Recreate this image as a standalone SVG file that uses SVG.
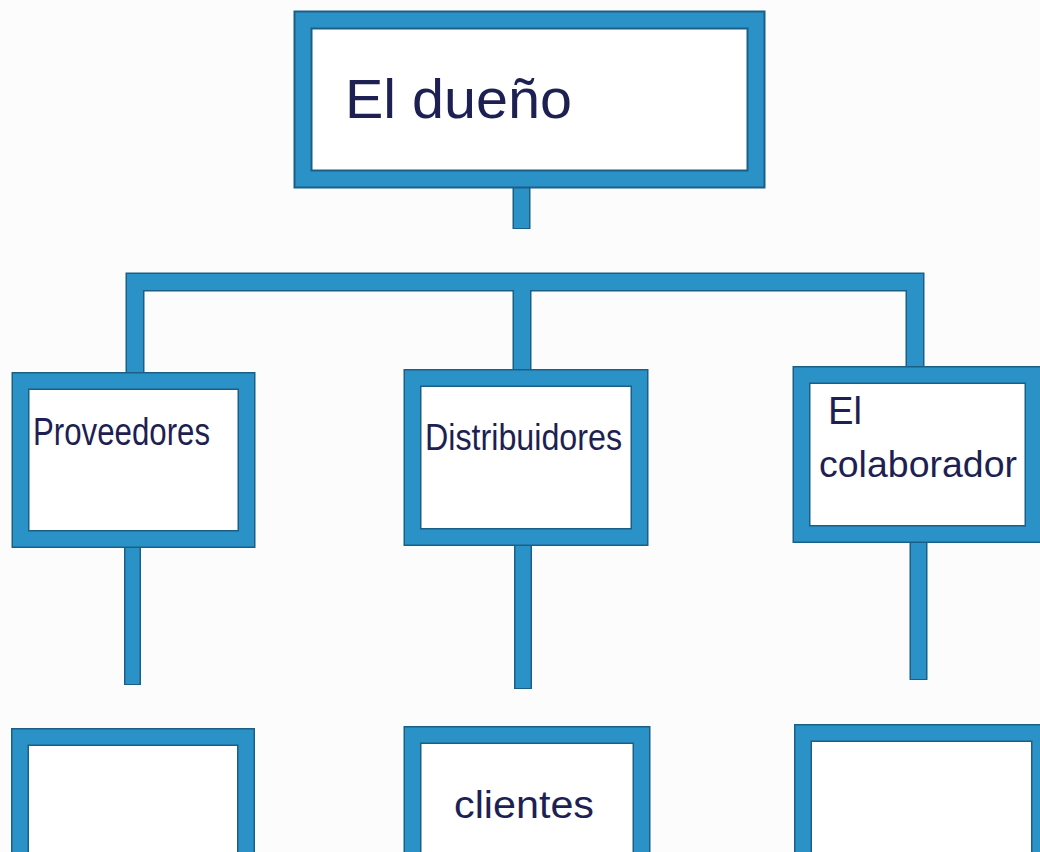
<svg xmlns="http://www.w3.org/2000/svg" width="1040" height="852" viewBox="0 0 1040 852">
  <style>
    .edge { fill: none; stroke: #1b5e86; stroke-linejoin: miter; stroke-linecap: butt; }
    .core { fill: none; stroke: #2a92c6; stroke-linejoin: miter; stroke-linecap: butt; }
    .inner { fill: #ffffff; }
    .lbl { font-family: "Liberation Sans", "Noto Sans", sans-serif; fill: #1e1f52; }
  </style>
  <rect x="0" y="0" width="1040" height="852" fill="#fcfcfc"/>

  <g id="connectors">
    <line class="edge" x1="521.5" y1="186" x2="521.5" y2="229" stroke-width="18"/>
    <line class="core" x1="521.5" y1="186" x2="521.5" y2="228" stroke-width="15"/>
    <path class="edge" d="M135,375 V282 H915 V368" stroke-width="19"/>
    <line class="edge" x1="522" y1="282" x2="522" y2="372" stroke-width="19"/>
    <path class="core" d="M135,375 V282 H915 V368" stroke-width="16"/>
    <line class="core" x1="522" y1="282" x2="522" y2="372" stroke-width="16"/>
    <line class="edge" x1="132.5" y1="546" x2="132.5" y2="685" stroke-width="17"/>
    <line class="core" x1="132.5" y1="546" x2="132.5" y2="684" stroke-width="14"/>
    <line class="edge" x1="523" y1="544" x2="523" y2="689" stroke-width="18"/>
    <line class="core" x1="523" y1="544" x2="523" y2="688" stroke-width="15"/>
    <line class="edge" x1="918.5" y1="541" x2="918.5" y2="680" stroke-width="18"/>
    <line class="core" x1="918.5" y1="541" x2="918.5" y2="679" stroke-width="15"/>
  </g>

  <g id="node-dueno">
    <rect class="inner" x="303" y="20" width="453" height="159"/>
    <rect class="edge" x="303" y="20" width="453" height="159" stroke-width="19"/>
    <rect class="core" x="303" y="20" width="453" height="159" stroke-width="15"/>
    <text class="lbl" x="345" y="118" font-size="56" textLength="227" lengthAdjust="spacingAndGlyphs">El dueño</text>
  </g>

  <g id="node-proveedores">
    <rect class="inner" x="20.5" y="381" width="226" height="158"/>
    <rect class="edge" x="20.5" y="381" width="226" height="158" stroke-width="18"/>
    <rect class="core" x="20.5" y="381" width="226" height="158" stroke-width="15"/>
    <text class="lbl" x="33" y="445" font-size="38" textLength="177" lengthAdjust="spacingAndGlyphs">Proveedores</text>
  </g>

  <g id="node-distribuidores">
    <rect class="inner" x="412.5" y="378" width="227" height="159"/>
    <rect class="edge" x="412.5" y="378" width="227" height="159" stroke-width="18"/>
    <rect class="core" x="412.5" y="378" width="227" height="159" stroke-width="15"/>
    <text class="lbl" x="425" y="450" font-size="36" textLength="197" lengthAdjust="spacingAndGlyphs">Distribuidores</text>
  </g>

  <g id="node-colaborador">
    <rect class="inner" x="801.5" y="375" width="232" height="159"/>
    <rect class="edge" x="801.5" y="375" width="232" height="159" stroke-width="18"/>
    <rect class="core" x="801.5" y="375" width="232" height="159" stroke-width="15"/>
    <text class="lbl" x="828" y="424" font-size="38" textLength="34" lengthAdjust="spacingAndGlyphs">El</text>
    <text class="lbl" x="819" y="477" font-size="36" textLength="198" lengthAdjust="spacingAndGlyphs">colaborador</text>
  </g>

  <g id="node-empty-left">
    <rect class="inner" x="20" y="737" width="226" height="200"/>
    <rect class="edge" x="20" y="737" width="226" height="200" stroke-width="18"/>
    <rect class="core" x="20" y="737" width="226" height="200" stroke-width="15"/>
  </g>

  <g id="node-clientes">
    <rect class="inner" x="412.5" y="735" width="229" height="200"/>
    <rect class="edge" x="412.5" y="735" width="229" height="200" stroke-width="18"/>
    <rect class="core" x="412.5" y="735" width="229" height="200" stroke-width="15"/>
    <text class="lbl" x="454" y="818" font-size="38" textLength="140" lengthAdjust="spacingAndGlyphs">clientes</text>
  </g>

  <g id="node-empty-right">
    <rect class="inner" x="803" y="733" width="237" height="200"/>
    <rect class="edge" x="803" y="733" width="237" height="200" stroke-width="18"/>
    <rect class="core" x="803" y="733" width="237" height="200" stroke-width="15"/>
  </g>
</svg>
